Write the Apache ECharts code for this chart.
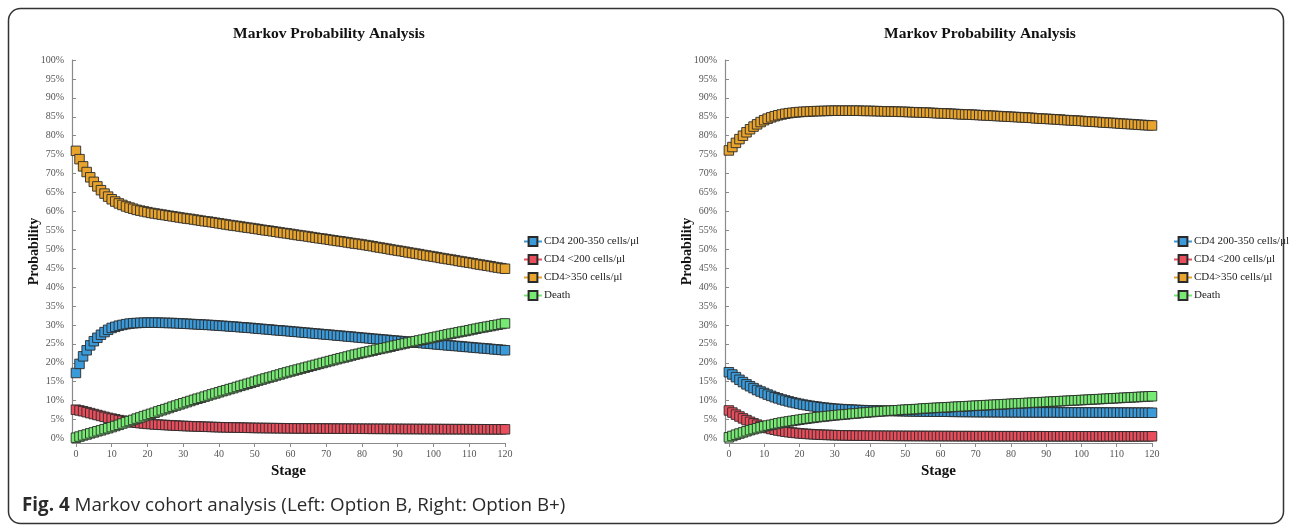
<!DOCTYPE html>
<html>
<head>
<meta charset="utf-8">
<script src="https://cdn.jsdelivr.net/npm/echarts@6/dist/echarts.min.js"></script>
<style>
html,body{margin:0;padding:0;background:#fff;}
#chart{width:1292px;height:525px;}
</style>
</head>
<body>
<div id="chart"></div>
<script>
// ---------- data ----------
const stages = Array.from({length: 121}, (_, i) => i);
const xTickLabels = [0, 10, 20, 30, 40, 50, 60, 70, 80, 90, 100, 110, 120];
const yTickLabels = [0, 5, 10, 15, 20, 25, 30, 35, 40, 45, 50, 55, 60, 65, 70, 75, 80, 85, 90, 95, 100];
const seriesNames = ['CD4 200-350 cells/μl', 'CD4 <200 cells/μl', 'CD4>350 cells/μl', 'Death'];
const chartTitle = 'Markov Probability Analysis';
const yName = 'Probability';
const xName = 'Stage';

// Left: Option B (percent)
const leftMid = [
17.3,19.7,21.7,23.3,24.6,25.7,26.6,27.4,28.1,28.7,29.2,
29.5,29.8,30.0,30.2,30.35,30.45,30.5,30.55,30.6,30.6,
30.6,30.6,30.6,30.55,30.55,30.5,30.5,30.45,30.4,30.35,
30.3,30.25,30.2,30.15,30.1,30.05,30.0,29.95,29.9,29.8,
29.75,29.7,29.6,29.55,29.5,29.4,29.35,29.25,29.2,29.1,
29.0,28.95,28.85,28.8,28.7,28.6,28.55,28.45,28.4,28.3,
28.2,28.15,28.05,27.95,27.9,27.8,27.7,27.65,27.55,27.45,
27.4,27.3,27.2,27.15,27.05,26.95,26.9,26.8,26.7,26.6,
26.55,26.45,26.35,26.3,26.2,26.1,26.05,25.95,25.85,25.8,
25.7,25.6,25.55,25.45,25.35,25.3,25.2,25.1,25.05,24.95,
24.85,24.8,24.7,24.6,24.55,24.45,24.4,24.3,24.2,24.15,
24.05,23.95,23.9,23.8,23.75,23.65,23.55,23.5,23.4,23.3];
const leftLow = [
7.6,7.4,7.2,6.95,6.7,6.45,6.2,5.95,5.7,5.45,5.25,
5.05,4.85,4.7,4.55,4.4,4.25,4.15,4.05,3.95,3.85,
3.8,3.7,3.65,3.6,3.55,3.5,3.45,3.4,3.35,3.3,
3.27,3.24,3.2,3.17,3.14,3.1,3.07,3.04,3.01,2.98,
2.96,2.94,2.92,2.9,2.88,2.86,2.84,2.82,2.8,2.78,
2.77,2.76,2.75,2.74,2.73,2.72,2.71,2.7,2.69,2.68,
2.67,2.66,2.66,2.65,2.64,2.64,2.63,2.62,2.62,2.61,
2.6,2.6,2.59,2.59,2.58,2.58,2.57,2.57,2.56,2.56,
2.55,2.55,2.54,2.54,2.54,2.53,2.53,2.52,2.52,2.52,
2.51,2.51,2.5,2.5,2.5,2.49,2.49,2.49,2.48,2.48,
2.48,2.47,2.47,2.47,2.46,2.46,2.46,2.45,2.45,2.45,
2.44,2.44,2.44,2.43,2.43,2.43,2.42,2.42,2.42,2.41];
const leftHigh = [
76.0,73.8,71.9,70.4,69.0,67.8,66.6,65.6,64.7,63.9,63.2,
62.6,62.1,61.7,61.3,61.0,60.7,60.4,60.2,60.0,59.8,
59.6,59.45,59.3,59.15,59.0,58.85,58.7,58.55,58.4,58.25,
58.1,58.0,57.85,57.7,57.55,57.4,57.3,57.15,57.0,56.85,
56.7,56.55,56.4,56.25,56.15,56.0,55.85,55.7,55.6,55.45,
55.3,55.15,55.0,54.9,54.75,54.6,54.45,54.3,54.2,54.05,
53.9,53.75,53.6,53.5,53.35,53.2,53.05,52.9,52.8,52.65,
52.5,52.35,52.2,52.1,51.95,51.8,51.65,51.5,51.4,51.25,
51.1,50.95,50.8,50.6,50.45,50.3,50.15,49.95,49.8,49.65,
49.5,49.35,49.15,49.0,48.85,48.7,48.5,48.35,48.2,48.05,
47.9,47.7,47.55,47.4,47.25,47.1,46.9,46.75,46.6,46.45,
46.3,46.1,45.95,45.8,45.65,45.5,45.3,45.15,45.0,44.85];
const leftDeath = [
0.2,0.5,0.8,1.05,1.35,1.6,1.9,2.15,2.45,2.7,3.0,
3.3,3.6,3.95,4.3,4.6,4.9,5.25,5.55,5.9,6.2,
6.5,6.8,7.15,7.45,7.75,8.05,8.4,8.7,9.0,9.3,
9.6,9.9,10.2,10.5,10.75,11.05,11.35,11.65,11.9,12.2,
12.5,12.75,13.05,13.3,13.6,13.9,14.15,14.45,14.7,15.0,
15.3,15.55,15.85,16.1,16.35,16.65,16.9,17.2,17.45,17.7,
17.95,18.2,18.45,18.7,18.95,19.2,19.45,19.7,19.95,20.2,
20.45,20.7,20.95,21.2,21.4,21.65,21.9,22.15,22.35,22.6,
22.8,23.0,23.2,23.45,23.65,23.85,24.05,24.25,24.5,24.7,
24.9,25.1,25.3,25.5,25.7,25.9,26.1,26.3,26.5,26.7,
26.9,27.1,27.3,27.5,27.7,27.85,28.05,28.25,28.4,28.6,
28.8,29.0,29.2,29.35,29.55,29.7,29.9,30.05,30.25,30.4];

// Right: Option B+ (percent)
const rightMid = [
17.5,16.9,16.2,15.5,14.9,14.3,13.8,13.3,12.8,12.4,12.0,
11.6,11.25,10.9,10.6,10.3,10.05,9.8,9.55,9.35,9.15,
8.95,8.8,8.65,8.5,8.4,8.25,8.15,8.05,7.95,7.85,
7.8,7.75,7.7,7.65,7.6,7.55,7.5,7.48,7.45,7.42,
7.4,7.37,7.35,7.32,7.3,7.28,7.26,7.24,7.22,7.2,
7.18,7.17,7.15,7.14,7.12,7.11,7.1,7.09,7.08,7.07,
7.06,7.05,7.04,7.03,7.02,7.01,7.0,7.0,6.99,6.98,
6.97,6.97,6.96,6.96,6.95,6.95,6.94,6.94,6.93,6.93,
6.92,6.92,6.91,6.91,6.9,6.9,6.9,6.89,6.89,6.89,
6.88,6.88,6.88,6.87,6.87,6.87,6.86,6.86,6.86,6.85,
6.85,6.85,6.84,6.84,6.84,6.83,6.83,6.83,6.82,6.82,
6.82,6.81,6.81,6.81,6.8,6.8,6.8,6.79,6.79,6.79];
const rightLow = [
7.4,6.85,6.3,5.8,5.3,4.85,4.4,4.0,3.65,3.3,3.0,
2.75,2.5,2.3,2.1,1.95,1.8,1.65,1.55,1.45,1.35,
1.28,1.21,1.15,1.1,1.05,1.0,0.96,0.93,0.9,0.87,
0.85,0.83,0.81,0.79,0.78,0.76,0.75,0.74,0.73,0.72,
0.71,0.7,0.7,0.69,0.69,0.68,0.68,0.67,0.67,0.66,
0.66,0.66,0.65,0.65,0.65,0.64,0.64,0.64,0.64,0.63,
0.63,0.63,0.63,0.62,0.62,0.62,0.62,0.62,0.61,0.61,
0.61,0.61,0.61,0.61,0.6,0.6,0.6,0.6,0.6,0.6,
0.6,0.59,0.59,0.59,0.59,0.59,0.59,0.59,0.59,0.58,
0.58,0.58,0.58,0.58,0.58,0.58,0.58,0.58,0.58,0.58,
0.58,0.58,0.57,0.57,0.57,0.57,0.57,0.57,0.57,0.57,
0.57,0.57,0.57,0.57,0.57,0.57,0.57,0.57,0.57,0.57];
const rightHigh = [
76.1,77.0,78.1,79.1,80.0,80.9,81.7,82.4,83.0,83.6,84.1,
84.5,84.85,85.15,85.4,85.6,85.8,85.95,86.05,86.15,86.25,
86.3,86.35,86.4,86.45,86.5,86.5,86.55,86.55,86.6,86.6,
86.6,86.6,86.6,86.6,86.6,86.6,86.6,86.55,86.55,86.55,
86.5,86.5,86.45,86.45,86.4,86.4,86.35,86.35,86.3,86.3,
86.25,86.2,86.2,86.15,86.1,86.1,86.05,86.0,85.95,85.9,
85.9,85.85,85.8,85.75,85.7,85.65,85.6,85.6,85.55,85.5,
85.45,85.4,85.35,85.3,85.25,85.2,85.15,85.1,85.05,85.0,
84.95,84.9,84.85,84.8,84.75,84.7,84.6,84.55,84.5,84.45,
84.4,84.35,84.3,84.25,84.15,84.1,84.05,84.0,83.95,83.9,
83.8,83.75,83.7,83.65,83.6,83.5,83.45,83.4,83.35,83.3,
83.2,83.15,83.1,83.05,83.0,82.9,82.85,82.8,82.75,82.7];
const rightDeath = [
0.3,0.65,1.0,1.3,1.6,1.9,2.2,2.45,2.7,2.95,3.2,
3.4,3.6,3.8,4.0,4.2,4.35,4.5,4.65,4.8,4.95,
5.1,5.2,5.35,5.45,5.6,5.7,5.8,5.9,6.0,6.1,
6.2,6.3,6.35,6.45,6.55,6.6,6.7,6.8,6.85,6.95,
7.0,7.1,7.15,7.2,7.3,7.35,7.4,7.45,7.55,7.6,
7.65,7.7,7.75,7.8,7.9,7.95,8.0,8.05,8.1,8.15,
8.2,8.25,8.3,8.35,8.4,8.45,8.5,8.55,8.6,8.65,
8.7,8.75,8.8,8.85,8.9,8.95,9.0,9.05,9.1,9.15,
9.2,9.25,9.3,9.35,9.4,9.45,9.5,9.55,9.6,9.65,
9.7,9.75,9.8,9.85,9.9,9.95,10.0,10.05,10.1,10.15,
10.2,10.25,10.3,10.35,10.4,10.45,10.5,10.55,10.6,10.65,
10.7,10.75,10.8,10.85,10.9,10.95,11.0,11.05,11.1,11.15];

const colors = ['#3b9ad9', '#e94e5c', '#e8a42c', '#76ea72'];

// ---------- chart ----------
const SERIF = '"Liberation Serif", "DejaVu Serif", serif';
const SANS = '"Open Sans", "Noto Sans", sans-serif';
const chart = echarts.init(document.getElementById('chart'), null, {renderer: 'canvas'});

function xAxisCfg(gridIndex) {
  return {
    type: 'value', gridIndex, min: -1.1, max: 120,
    name: xName, nameLocation: 'middle', nameGap: 21, nameMoveOverlap: false,
    nameTextStyle: {fontFamily: SERIF, fontWeight: 'bold', fontSize: 15, color: '#111'},
    axisLine: {show: true, onZero: false, lineStyle: {color: '#8a8a8a', width: 1.2}},
    axisTick: {show: true, length: 4, lineStyle: {color: '#8a8a8a'}, customValues: xTickLabels},
    axisLabel: {fontFamily: SERIF, fontSize: 10, color: '#555', margin: 6, customValues: xTickLabels},
    splitLine: {show: false}
  };
}
function yAxisCfg(gridIndex) {
  return {
    type: 'value', gridIndex, min: -1.2, max: 100,
    name: yName, nameLocation: 'middle', nameGap: 31, nameMoveOverlap: false,
    nameTextStyle: {fontFamily: SERIF, fontWeight: 'bold', fontSize: 14, color: '#111'},
    axisLine: {show: true, onZero: false, lineStyle: {color: '#8a8a8a', width: 1.2}},
    axisTick: {show: true, inside: true, length: 4, lineStyle: {color: '#8a8a8a'}, customValues: yTickLabels},
    axisLabel: {fontFamily: SERIF, fontSize: 10, color: '#555', margin: 8, formatter: '{value}%', customValues: yTickLabels},
    splitLine: {show: false}
  };
}
function mkSeries(name, values, color, idx) {
  return {
    name, type: 'line', xAxisIndex: idx, yAxisIndex: idx,
    data: values.map((v, i) => [stages[i], v]),
    symbol: 'rect', symbolSize: 9.5, showAllSymbol: true,
    lineStyle: {color, width: 1},
    itemStyle: {color, borderColor: '#2a2a2a', borderWidth: 0.9},
    emphasis: {disabled: true}
  };
}
const leftSets = [leftMid, leftLow, leftHigh, leftDeath];
const rightSets = [rightMid, rightLow, rightHigh, rightDeath];
const series = [];
leftSets.forEach((d, k) => series.push(mkSeries(seriesNames[k], d, colors[k], 0)));
rightSets.forEach((d, k) => series.push(mkSeries(seriesNames[k], d, colors[k], 1)));

function legendCfg(left) {
  return {
    orient: 'vertical', left, top: 231, itemGap: 7, itemWidth: 18, itemHeight: 11,
    selectedMode: false, data: seriesNames,
    textStyle: {fontFamily: SERIF, fontSize: 11, color: '#222', padding: [0, 0, 0, -3]}
  };
}

chart.setOption({
  animation: false,
  color: colors,
  title: [
    {text: chartTitle, left: 324, top: 21, textAlign: 'center',
     textStyle: {fontFamily: SERIF, fontWeight: 'bold', fontSize: 15.5, color: '#111'}},
    {text: chartTitle, left: 975, top: 21, textAlign: 'center',
     textStyle: {fontFamily: SERIF, fontWeight: 'bold', fontSize: 15.5, color: '#111'}}
  ],
  grid: [
    {left: 72, right: 787, top: 60, bottom: 82},
    {left: 725, right: 140, top: 60, bottom: 82}
  ],
  xAxis: [xAxisCfg(0), xAxisCfg(1)],
  yAxis: [yAxisCfg(0), yAxisCfg(1)],
  legend: [legendCfg(518), legendCfg(1168)],
  series,
  graphic: [
    {type: 'rect', shape: {x: 8.5, y: 8.5, width: 1275, height: 515, r: 12},
     style: {fill: 'none', stroke: '#333', lineWidth: 1.5}, silent: true},
    {type: 'text', left: 22, top: 496,
     style: {
       text: '{b|Fig. 4} Markov cohort analysis (Left: Option B, Right: Option B+)',
       fontFamily: SANS, fontSize: 18.8, fill: '#2a2a2a',
       rich: {b: {fontFamily: SANS, fontSize: 18.8, fontWeight: 'bold', fill: '#2a2a2a'}}
     }}
  ]
});
</script>
</body>
</html>
